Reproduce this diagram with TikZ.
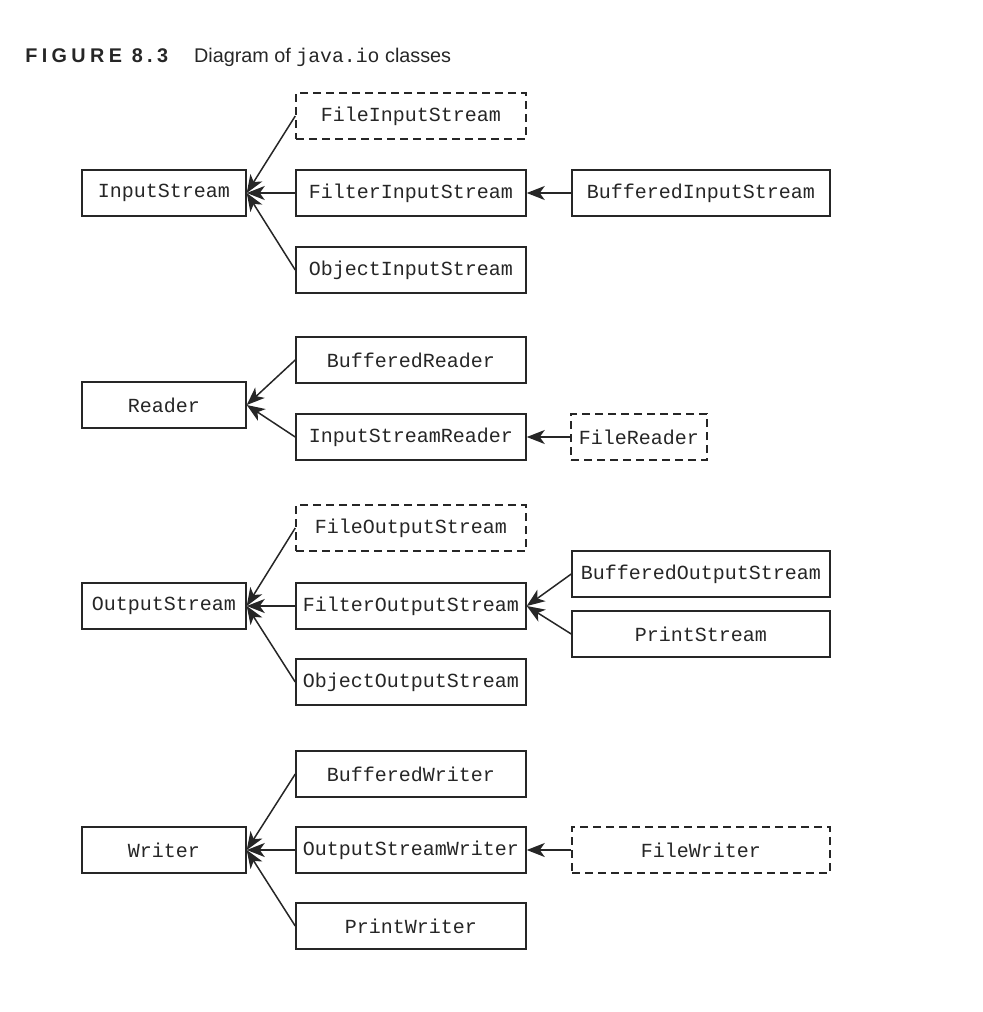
\documentclass[tikz,border=0pt]{standalone}
\usepackage{fontspec}
\setmainfont{Liberation Sans}
\setmonofont{Liberation Mono}
\newfontfamily\figfont[LetterSpace=22]{Liberation Sans}
\usetikzlibrary{arrows.meta}
\begin{document}
\begin{tikzpicture}[x=0.5pt,y=-0.5pt,
    cls/.style={draw=black!85,line width=0.75pt,inner sep=0pt,minimum height=23pt,text=black!85,font=\ttfamily\fontsize{10}{12}\selectfont},
    base/.style={cls,minimum width=82pt},
    sub/.style={cls,minimum width=115pt},
    wide/.style={cls,minimum width=129pt},
    abstr/.style={dashed,dash pattern=on 4pt off 2.5pt},
    inh/.style={-{Stealth[length=9pt,width=7pt,inset=2.5pt]},line width=0.75pt,draw=black!85}]
    \useasboundingbox (0,0) rectangle (982,1012);
    \node[anchor=base west,inner sep=0pt,text=black!85,font=\fontsize{9.9}{12}\selectfont] (title) at (25,62)
        {{\figfont\bfseries FIGURE 8.3}\hspace{13pt}Diagram of \texttt{java.io} classes};
    % input streams
    \node[base] (is) at (164,193) {InputStream};
    \node[sub,abstr] (fis) at (411,116) {FileInputStream};
    \node[sub] (filis) at (411,193) {FilterInputStream};
    \node[wide] (bis) at (701,193) {BufferedInputStream};
    \node[sub] (ois) at (411,270) {ObjectInputStream};
    \draw[inh] (fis.west) -- (is.east);
    \draw[inh] (filis.west) -- (is.east);
    \draw[inh] (ois.west) -- (is.east);
    \draw[inh] (bis.west) -- (filis.east);
    % readers
    \node[base] (rd) at (164,405) {Reader};
    \node[sub] (brd) at (411,360) {BufferedReader};
    \node[sub] (isr) at (411,437) {InputStreamReader};
    \node[cls,abstr,minimum width=68pt] (frd) at (639,437) {FileReader};
    \draw[inh] (brd.west) -- (rd.east);
    \draw[inh] (isr.west) -- (rd.east);
    \draw[inh] (frd.west) -- (isr.east);
    % output streams
    \node[base] (os) at (164,606) {OutputStream};
    \node[sub,abstr] (fos) at (411,528) {FileOutputStream};
    \node[sub] (filos) at (411,606) {FilterOutputStream};
    \node[sub] (oos) at (411,682) {ObjectOutputStream};
    \node[wide] (bos) at (701,574) {BufferedOutputStream};
    \node[wide] (ps) at (701,634) {PrintStream};
    \draw[inh] (fos.west) -- (os.east);
    \draw[inh] (filos.west) -- (os.east);
    \draw[inh] (oos.west) -- (os.east);
    \draw[inh] (bos.west) -- (filos.east);
    \draw[inh] (ps.west) -- (filos.east);
    % writers
    \node[base] (wr) at (164,850) {Writer};
    \node[sub] (bwr) at (411,774) {BufferedWriter};
    \node[sub] (osw) at (411,850) {OutputStreamWriter};
    \node[wide,abstr] (fwr) at (701,850) {FileWriter};
    \node[sub] (pwr) at (411,926) {PrintWriter};
    \draw[inh] (bwr.west) -- (wr.east);
    \draw[inh] (osw.west) -- (wr.east);
    \draw[inh] (pwr.west) -- (wr.east);
    \draw[inh] (fwr.west) -- (osw.east);
\end{tikzpicture}
\end{document}
